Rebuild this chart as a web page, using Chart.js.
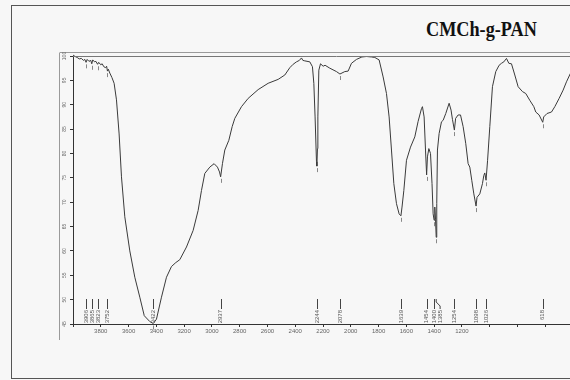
<!DOCTYPE html>
<html><head><meta charset="utf-8">
<script src="https://cdn.jsdelivr.net/npm/chart.js@4"></script>
<style>
html,body{margin:0;padding:0;overflow:hidden;background:#f7f7f7;width:570px;height:380px;}
#wrap{position:absolute;left:0;top:0;width:600px;height:380px;}
#frame{position:absolute;left:11px;top:5px;width:640px;height:374px;border:1px solid #555;box-sizing:border-box;}
#title{position:absolute;left:426px;top:18px;width:130px;font:bold 20px "Liberation Serif",serif;color:#111;white-space:nowrap;transform:scaleX(0.91);transform-origin:left top;}
</style></head>
<body>
<div id="frame"></div>
<div id="title">CMCh-g-PAN</div>
<div id="wrap"><canvas id="c" width="600" height="380"></canvas></div>
<script>
const wavenumbers = [4000,3985,3970,3955,3940,3925,3915,3906,3898,3885,3872,3865,3858,3845,3835,3823,3815,3800,3790,3778,3765,3758,3752,3746,3735,3720,3704,3687,3668,3651,3627,3591,3555,3519,3487,3447,3422,3399,3363,3327,3291,3260,3231,3183,3135,3099,3075,3051,3015,2984,2960,2945,2937,2924,2907,2878,2854,2835,2787,2739,2667,2595,2523,2475,2439,2415,2391,2370,2355,2345,2331,2295,2276,2266,2257,2247,2244,2240,2237,2230,2218,2199,2185,2151,2103,2078,2043,2019,1995,1959,1920,1887,1850,1827,1796,1767,1743,1724,1707,1690,1671,1652,1639,1631,1618,1599,1570,1539,1515,1491,1484,1472,1462,1454,1448,1438,1426,1415,1407,1400,1395,1390,1385,1381,1376,1364,1347,1335,1316,1292,1278,1268,1254,1245,1227,1210,1191,1172,1155,1143,1129,1114,1098,1091,1071,1052,1042,1035,1026,1015,999,980,956,932,915,898,879,862,843,819,795,764,740,711,682,668,644,618,611,587,555,531,500,471,447,424,400];
const transmittance = [100.2,99.9,99.7,99.4,99.5,99.1,99.3,98.7,99.3,98.9,99.1,98.4,99.2,98.8,98.9,98.3,98.7,98.2,98.4,97.8,97.6,97.9,96.9,97.3,96.5,95.6,94.4,91.0,84.0,75.2,67.0,60.0,54.6,50.5,46.7,45.5,45.1,46.0,50.5,54.6,56.8,57.6,58.2,60.8,64.2,68.3,72.4,75.9,77.2,77.9,77.2,76.2,75.2,77.9,80.7,82.7,85.5,87.2,89.6,91.3,93.1,94.4,95.2,96.1,97.6,98.3,98.8,99.1,99.6,99.1,99.0,98.8,97.8,94.4,87.5,78.3,77.4,81.0,87.5,97.1,98.4,97.9,98.1,97.5,96.8,96.3,96.8,96.9,98.5,99.3,99.8,99.9,99.8,99.7,99.2,95.7,92.3,87.5,80.7,73.8,69.7,67.6,67.2,69.0,72.4,78.6,81.3,83.4,86.6,89.2,89.6,87.5,80.7,75.6,79.3,81.0,80.0,73.8,67.6,66.3,69.0,66.5,62.8,69.7,80.7,84.1,86.5,86.8,88.2,90.3,88.9,87.0,84.8,87.2,87.9,87.9,85.5,82.0,77.9,77.2,74.5,71.7,69.2,71.0,71.7,73.8,75.5,76.0,74.5,78.6,85.5,93.7,96.8,98.1,98.5,98.8,99.5,98.5,98.4,96.1,93.7,92.7,92.3,90.9,89.6,88.5,87.9,86.4,87.5,88.2,88.5,89.6,91.3,93.0,94.7,96.1,97.5];
const peakWavenumbers = [3906,3865,3823,3752,3422,2937,2244,2078,1639,1454,1400,1385,1254,1098,1026,618];
const peakLabels = ['3906','3865','3823','3752','3422','2937','2244','2078','1639','1454','1400','1385','1254','1098','1026','618'];
const xLabelValues = [3800,3600,3400,3200,3000,2800,2600,2400,2200,2000,1800,1600,1400,1200];
const yTickValues = [100,95,90,85,80,75,70,65,60,55,50,45];
const title = 'CMCh-g-PAN';

const points = wavenumbers.map((w,i)=>({x:w,y:transmittance[i]}));

const decor = {
  id:'decor',
  afterDraw(chart){
    const ctx = chart.ctx, ca = chart.chartArea;
    const xs = chart.scales.x, ys = chart.scales.y;
    ctx.save();
    ctx.strokeStyle = '#9a9a9a'; ctx.lineWidth = 1;
    ctx.beginPath(); ctx.moveTo(60, 52.5); ctx.lineTo(chart.width, 52.5); ctx.stroke();
    ctx.beginPath(); ctx.moveTo(59.5, 52.5); ctx.lineTo(59.5, 340); ctx.stroke();
    ctx.strokeStyle = '#777';
    ctx.beginPath(); ctx.moveTo(ca.left, ca.top+0.5); ctx.lineTo(chart.width, ca.top+0.5); ctx.stroke();
    ctx.fillStyle = '#666'; ctx.font = '5px "Liberation Sans"';
    ctx.textAlign = 'center'; ctx.textBaseline = 'middle';
    yTickValues.forEach(v=>{
      const py = ys.getPixelForValue(v);
      ctx.save(); ctx.translate(65, py); ctx.rotate(-Math.PI/2);
      ctx.fillText(String(v), 0, 0); ctx.restore();
    });
    let lastX = -100;
    ctx.font = '6px "Liberation Sans"';
    peakWavenumbers.forEach((w,i)=>{
      const px = xs.getPixelForValue(w);
      const idx = wavenumbers.indexOf(w);
      const py = ys.getPixelForValue(transmittance[idx]);
      ctx.strokeStyle = '#888';
      ctx.beginPath(); ctx.moveTo(Math.round(px)+0.5, py+2); ctx.lineTo(Math.round(px)+0.5, py+6); ctx.stroke();
      let lx = px;
      if (lx - lastX < 6) lx = lastX + 6;
      lastX = lx;
      ctx.strokeStyle = '#444';
      ctx.beginPath();
      if (Math.abs(lx-px) > 0.5) {
        ctx.moveTo(px, 299); ctx.lineTo(px, 302); ctx.lineTo(lx, 306); ctx.lineTo(lx, 309);
      } else {
        ctx.moveTo(Math.round(px)+0.5, 299); ctx.lineTo(Math.round(px)+0.5, 309);
      }
      ctx.stroke();
      ctx.fillStyle = '#555';
      ctx.save(); ctx.translate(lx, 310); ctx.rotate(-Math.PI/2);
      ctx.textAlign = 'right'; ctx.textBaseline = 'middle';
      ctx.fillText(peakLabels[i], 0, 0); ctx.restore();
    });
    ctx.restore();
  }
};

new Chart(document.getElementById('c'), {
  type:'line',
  data:{datasets:[{label:title,data:points,borderColor:'#3a3a3a',borderWidth:1,pointRadius:0,tension:0,fill:false,clip:false}]},
  options:{
    responsive:false,animation:false,
    layout:{padding:{left:0,top:56,right:27,bottom:0}},
    plugins:{legend:{display:false},tooltip:{enabled:false},title:{display:false}},
    scales:{
      x:{type:'linear',reverse:true,min:400,max:4000,
        ticks:{stepSize:200,autoSkip:false,maxRotation:0,minRotation:0,padding:1,color:'#666',font:{size:6,family:'Liberation Sans'},
          callback:v=>xLabelValues.includes(v)?String(v):''},
        grid:{drawOnChartArea:false,tickLength:3,color:'#333'},
        border:{color:'#333',width:1},
        afterFit:s=>{s.height=56;}},
      y:{min:45,max:100,
        ticks:{stepSize:5,color:'rgba(0,0,0,0)',font:{size:5}},
        grid:{drawOnChartArea:false,tickLength:3,color:'#333'},
        border:{color:'#333',width:1},
        afterFit:s=>{s.width=73;}}
    }
  },
  plugins:[decor]
});
</script>
</body></html>
